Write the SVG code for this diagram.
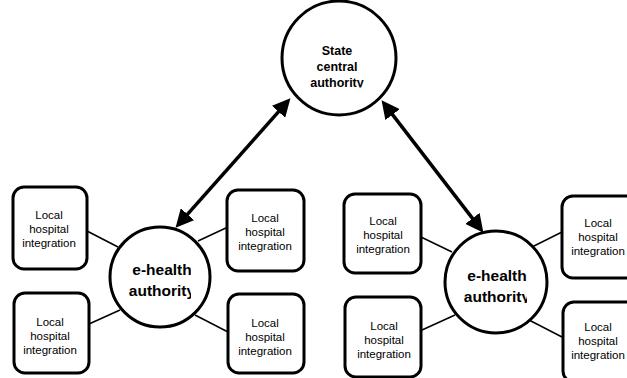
<svg xmlns="http://www.w3.org/2000/svg" width="627" height="378" viewBox="0 0 627 378">
<style>
.node{fill:#fff;stroke:#000;stroke-width:3}
.box{fill:#fff;stroke:#000;stroke-width:3}
.link{stroke:#000;stroke-width:1.5;fill:none}
.arrow{stroke:#000;stroke-width:3.5;fill:none;marker-start:url(#head);marker-end:url(#head)}
.lbl{font-family:"Liberation Sans",Arial,sans-serif;font-size:11.5px;text-anchor:middle;fill:#000}
.big{font-family:"Liberation Sans",Arial,sans-serif;font-size:15.5px;font-weight:bold;text-anchor:middle;fill:#000}
.top{font-family:"Liberation Sans",Arial,sans-serif;font-size:12.5px;font-weight:bold;text-anchor:middle;fill:#000}
</style>
<defs>
<marker id="head" markerUnits="userSpaceOnUse" markerWidth="18" markerHeight="18" viewBox="0 0 17 17" refX="3" refY="8.5" orient="auto-start-reverse">
<path d="M0,0 L17,8.5 L0,17 z" fill="#000"/>
</marker>
<clipPath id="clipTop"><rect x="290" y="30" width="100" height="57.5"/></clipPath>
<clipPath id="clipL"><rect x="110" y="250" width="81" height="49"/></clipPath>
<clipPath id="clipR"><rect x="450" y="255" width="77" height="48"/></clipPath>
</defs>
<rect width="627" height="378" fill="#fff"/>
<g id="connectors">
<line class="link" x1="87" y1="231" x2="118" y2="247"/>
<line class="link" x1="89" y1="324" x2="120" y2="310"/>
<line class="link" x1="198" y1="241" x2="228" y2="227"/>
<line class="link" x1="195" y1="315" x2="228" y2="332"/>
<line class="link" x1="421" y1="237" x2="452" y2="252"/>
<line class="link" x1="422" y1="330" x2="455" y2="315"/>
<line class="link" x1="532" y1="247" x2="562" y2="232"/>
<line class="link" x1="529" y1="320" x2="562" y2="337"/>
<line class="arrow" x1="185.4" y1="216.6" x2="280.6" y2="109.4"/>
<line class="arrow" x1="390.6" y1="112.1" x2="474.4" y2="220.9"/>
</g>
<g id="state">
<circle class="node" cx="339" cy="58" r="57"/>
<g clip-path="url(#clipTop)">
<text class="top" x="337" y="55">State</text>
<text class="top" x="337" y="71">central</text>
<text class="top" x="337" y="87">authority</text>
</g>
</g>
<g id="ehealth-left">
<circle class="node" cx="160" cy="277" r="50"/>
<g clip-path="url(#clipL)">
<text class="big" x="162" y="275">e-health</text>
<text class="big" x="162" y="296">authority</text>
</g>
</g>
<g id="ehealth-right">
<circle class="node" cx="496" cy="282" r="51"/>
<g clip-path="url(#clipR)">
<text class="big" x="497" y="281">e-health</text>
<text class="big" x="497" y="302">authority</text>
</g>
</g>
<g id="box1">
<rect class="box" x="13" y="187" width="74" height="82" rx="11"/>
<text class="lbl" x="49" y="219">Local</text>
<text class="lbl" x="49" y="233">hospital</text>
<text class="lbl" x="49" y="247">integration</text>
</g>
<g id="box2">
<rect class="box" x="14" y="293" width="75" height="80" rx="11"/>
<text class="lbl" x="50" y="326">Local</text>
<text class="lbl" x="50" y="340">hospital</text>
<text class="lbl" x="50" y="354">integration</text>
</g>
<g id="box3">
<rect class="box" x="227" y="190" width="77" height="81" rx="11"/>
<text class="lbl" x="265" y="222">Local</text>
<text class="lbl" x="265" y="236">hospital</text>
<text class="lbl" x="265" y="250">integration</text>
</g>
<g id="box4">
<rect class="box" x="228" y="294" width="76" height="79" rx="11"/>
<text class="lbl" x="265" y="327">Local</text>
<text class="lbl" x="265" y="341">hospital</text>
<text class="lbl" x="265" y="355">integration</text>
</g>
<g id="box5">
<rect class="box" x="344" y="194" width="77" height="79" rx="11"/>
<text class="lbl" x="383" y="225">Local</text>
<text class="lbl" x="383" y="239">hospital</text>
<text class="lbl" x="383" y="253">integration</text>
</g>
<g id="box6">
<rect class="box" x="345" y="297" width="76" height="80" rx="11"/>
<text class="lbl" x="384" y="330">Local</text>
<text class="lbl" x="384" y="344">hospital</text>
<text class="lbl" x="384" y="358">integration</text>
</g>
<g id="box7">
<rect class="box" x="562" y="196" width="80" height="82" rx="11"/>
<text class="lbl" x="598" y="227">Local</text>
<text class="lbl" x="598" y="241">hospital</text>
<text class="lbl" x="598" y="255">integration</text>
</g>
<g id="box8">
<rect class="box" x="563" y="302" width="80" height="80" rx="11"/>
<text class="lbl" x="598" y="331">Local</text>
<text class="lbl" x="598" y="345">hospital</text>
<text class="lbl" x="598" y="359">integration</text>
</g>
</svg>
